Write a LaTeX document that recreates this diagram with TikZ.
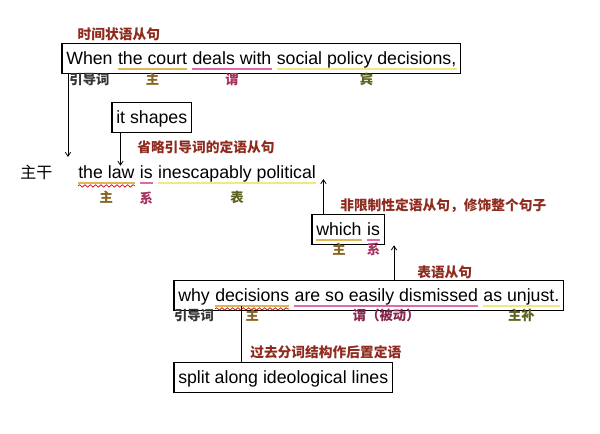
\documentclass[tikz,border=0pt]{standalone}
\usepackage{fontspec}
\setmainfont{Liberation Sans}
\newfontfamily\cjk{Noto Sans CJK SC}
\usepackage{tikz}
\usetikzlibrary{arrows.meta, positioning, fit, decorations.pathmorphing}

\definecolor{gold}{HTML}{D9A93A}
\definecolor{pinkul}{HTML}{D8509E}
\definecolor{yell}{HTML}{EFE46A}
\definecolor{note}{HTML}{8E2A1E}
\definecolor{zhu}{HTML}{8A6420}
\definecolor{wei}{HTML}{A8305E}
\definecolor{biao}{HTML}{5E6220}

\tikzset{
  word/.style={inner sep=0pt, font=\fontsize{13.3}{16}\selectfont, text height=9.7pt, text depth=0pt},
  sbox/.style={draw, line width=0.8pt, inner xsep=3pt, inner ysep=6.4pt},
  ul/.style={line width=1.5pt, opacity=0.85},
  wavy/.style={red!80!black, line width=0.5pt, decorate, decoration={snake, amplitude=0.9pt, segment length=4pt}},
  role/.style={font=\cjk\bfseries\fontsize{10}{11}\selectfont, inner sep=0pt},
  tag/.style={font=\cjk\bfseries\fontsize{10.3}{12}\selectfont, text=note, inner sep=0pt},
  arr/.style={-{Straight Barb[length=3pt,width=4pt]}, line width=0.6pt},
}

\begin{document}
\begin{tikzpicture}[x=0.75pt, y=-0.75pt]
    \useasboundingbox (0,0) rectangle (600,434);

    % Time clause
    \node[word, anchor=base west] (when) at (66,65) {When};
    \node[word, base right=3.7pt of when] (court) {the court};
    \node[word, base right=3.7pt of court] (deals) {deals with};
    \node[word, base right=3.7pt of deals] (soc) {social policy decisions,};
    \node[sbox, fit=(when)(soc)] (s1) {};
    \node[tag, anchor=south west] (t1) at ([shift={(12pt,1pt)}]s1.north west) {时间状语从句};
    \draw[ul, gold] ([yshift=-2.5pt]court.south west) -- ([yshift=-2.5pt]court.south east);
    \draw[ul, pinkul] ([yshift=-2.5pt]deals.south west) -- ([yshift=-2.5pt]deals.south east);
    \draw[ul, yell] ([yshift=-2.5pt]soc.south west) -- ([yshift=-2.5pt]soc.south east);
    \node[role, text=black!80, below=5.5pt of when] {引导词};
    \node[role, text=zhu, below=5.5pt of court] {主};
    \node[role, text=wei, below=5.5pt of deals] {谓};
    \node[role, text=biao, below=5.5pt of soc] {宾};

    % Main clause
    \node[word, anchor=base west, font=\cjk\fontsize{12}{14}\selectfont] (main) at (20,179) {主干};
    \node[word, anchor=base west] (law) at (78,179) {the law};
    \node[word, base right=3.7pt of law] (is) {is};
    \node[word, base right=3.7pt of is] (pol) {inescapably political};
    \draw[ul, gold] ([yshift=-2.5pt]law.south west) -- ([yshift=-2.5pt]law.south east);
    \draw[wavy] ([yshift=-5pt]law.south west) -- ([yshift=-5pt]law.south east);
    \draw[ul, pinkul] ([yshift=-2.5pt]is.south west) -- ([yshift=-2.5pt]is.south east);
    \draw[ul, yell] ([yshift=-2.5pt]pol.south west) -- ([yshift=-2.5pt]pol.south east);
    \node[role, text=zhu, below=9pt of law] {主};
    \node[role, text=wei, below=9pt of is] {系};
    \node[role, text=biao, below=9pt of pol] {表};
    \coordinate (m1) at (68,157);
    \draw[arr] (s1.south west -| m1) -- (m1);

    % Relative clause without connective
    \node[word, anchor=base west] (shp) at (116,124) {it shapes};
    \node[sbox, fit=(shp)] (s2) {};
    \node[tag, anchor=west] (t2) at (137,147) {省略引导词的定语从句};
    \draw[arr] ([xshift=6.75pt]s2.south west) -- ([xshift=6.75pt]s2.south west |- law.north);

    % Non-restrictive clause
    \node[word, anchor=base west] (which) at (316,236) {which};
    \node[word, base right=3.7pt of which] (is2) {is};
    \node[sbox, fit=(which)(is2)] (s3) {};
    \draw[ul, gold] ([yshift=-2.5pt]which.south west) -- ([yshift=-2.5pt]which.south east);
    \draw[ul, pinkul] ([yshift=-2.5pt]is2.south west) -- ([yshift=-2.5pt]is2.south east);
    \node[role, text=zhu, below=5pt of which] {主};
    \node[role, text=wei, below=5pt of is2] {系};
    \node[tag, anchor=west] (t3) at (340,206) {非限制性定语从句，修饰整个句子};
    \draw[arr] ([xshift=9pt]s3.north west) -- ([xshift=9pt]s3.north west |- pol.base);

    % Predicative clause
    \node[word, anchor=base west] (why) at (178,302) {why};
    \node[word, base right=3.7pt of why] (dec) {decisions};
    \node[word, base right=3.7pt of dec] (are) {are so easily dismissed};
    \node[word, base right=3.7pt of are] (unj) {as unjust.};
    \node[sbox, fit=(why)(unj)] (s4) {};
    \draw[ul, gold] ([yshift=-2.5pt]dec.south west) -- ([yshift=-2.5pt]dec.south east);
    \draw[wavy] ([yshift=-5pt]dec.south west) -- ([yshift=-5pt]dec.south east);
    \draw[ul, pinkul] ([yshift=-2.5pt]are.south west) -- ([yshift=-2.5pt]are.south east);
    \draw[ul, yell] ([yshift=-2.5pt]unj.south west) -- ([yshift=-2.5pt]unj.south east);
    \node[role, text=black!80, below=5pt of why] {引导词};
    \node[role, text=zhu, below=5pt of dec] {主};
    \node[role, text=wei!80!black, below=5pt of are] {谓（被动）};
    \node[role, text=biao, below=5pt of unj] {主补};
    \node[tag, anchor=west] (t4) at (417,272) {表语从句};
    \draw[arr] ([xshift=7pt]s3.south east |- s4.north) -- ([xshift=7pt]s3.south east);

    % Past participle phrase
    \node[word, anchor=base west] (spl) at (178,384) {split along ideological lines};
    \node[sbox, fit=(spl)] (s5) {};
    \node[tag, anchor=west] (t5) at (250,352) {过去分词结构作后置定语};
    \draw[line width=0.6pt] ([xshift=-8pt,yshift=-3pt]dec.south) -- ([xshift=-8pt]dec.south |- s5.north);
\end{tikzpicture}
\end{document}
